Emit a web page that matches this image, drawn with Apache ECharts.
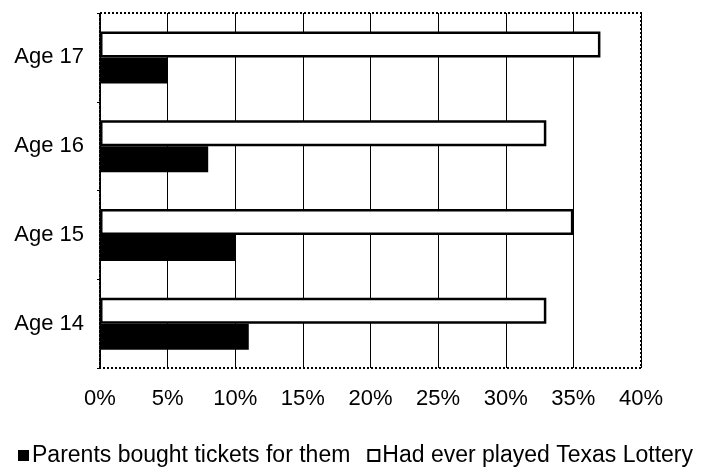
<!DOCTYPE html>
<html>
<head>
<meta charset="utf-8">
<script src="https://cdn.jsdelivr.net/npm/echarts@6/dist/echarts.min.js"></script>
<style>
  html, body { margin: 0; padding: 0; background: #fff; }
  #main { width: 711px; height: 467px; }
</style>
</head>
<body>
<div id="main"></div>
<script>
var ages = ['Age 14', 'Age 15', 'Age 16', 'Age 17'];
var parentsBought = [11, 10, 8, 5];
var everPlayed = [33, 35, 33, 37];
var seriesNames = ['Parents bought tickets for them', 'Had ever played Texas Lottery'];

var chart = echarts.init(document.getElementById('main'));
var option = {
  animation: false,
  textStyle: { fontFamily: 'Liberation Sans, Arial, sans-serif', color: '#000' },
  grid: {
    left: 100, right: 70, top: 13, bottom: 99,
    show: true, borderColor: '#000', borderWidth: 2, borderType: 'dotted'
  },
  legend: {
    data: seriesNames,
    left: 'center',
    top: 439,
    icon: 'rect',
    itemWidth: 11,
    itemHeight: 11,
    itemGap: 17,
    textStyle: { fontSize: 23, color: '#000', padding: [0, 0, 0, -2] }
  },
  xAxis: {
    type: 'value',
    min: 0, max: 40, interval: 5,
    axisLine: { show: false },
    axisTick: { show: false },
    splitLine: { show: true, lineStyle: { color: '#000', width: 1 } },
    axisLabel: { formatter: '{value}%', fontSize: 22, color: '#000', margin: 20 }
  },
  yAxis: {
    type: 'category',
    data: ages,
    axisLine: { show: true, lineStyle: { color: '#000', width: 2, type: 'dotted' } },
    axisTick: { show: true, length: 3, lineStyle: { color: '#000' } },
    axisLabel: { fontSize: 22, color: '#000', margin: 16 }
  },
  series: [
    {
      name: seriesNames[1],
      type: 'bar',
      data: everPlayed,
      barWidth: 26,
      barGap: '0%',
      itemStyle: { color: '#fff', borderColor: '#000', borderWidth: 2.5 }
    },
    {
      name: seriesNames[0],
      type: 'bar',
      data: parentsBought,
      barWidth: 26,
      barGap: '0%',
      itemStyle: { color: '#000' }
    }
  ]
};
chart.setOption(option);
</script>
</body>
</html>
